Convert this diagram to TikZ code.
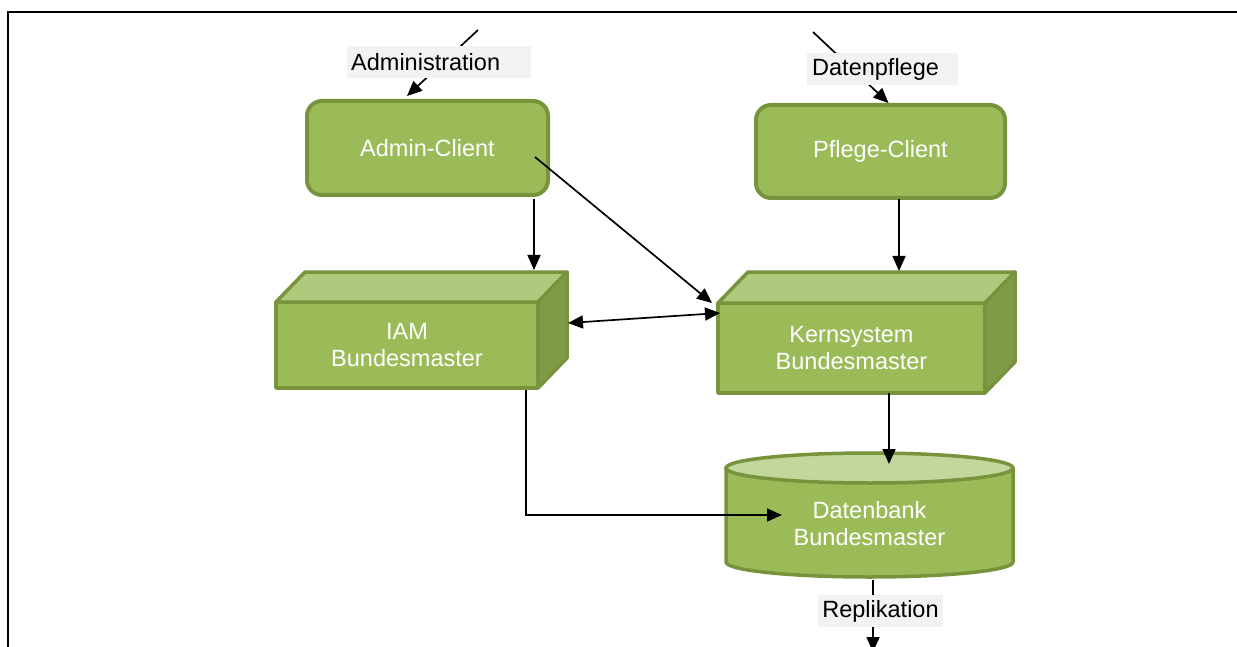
\documentclass[tikz,border=0pt]{standalone}
\usepackage{fontspec}
\setmainfont{Liberation Sans}
\usetikzlibrary{arrows.meta,calc}
\definecolor{gfill}{HTML}{9BBB59}
\definecolor{gline}{HTML}{77933C}
\definecolor{gtop}{HTML}{B0C97C}
\definecolor{gside}{HTML}{7F9B48}
\definecolor{gcyl}{HTML}{C3D69B}
\definecolor{lblbg}{HTML}{F2F2F2}
\begin{document}
\begin{tikzpicture}[x=1pt,y=-1pt,
  font=\fontsize{23.5}{27}\selectfont,
  client/.style={draw=gline, fill=gfill, line width=4pt, rounded corners=15pt, text=white, align=center, inner sep=0pt, outer sep=0pt},
  cubefront/.style={draw=gline, fill=gfill, line width=3.5pt, text=white, align=center, inner sep=0pt, outer sep=0pt, line join=round},
  cubeface/.style={draw=gline, line width=3.5pt, line join=round},
  lbl/.style={fill=lblbg, text=black, inner ysep=0pt, minimum height=32pt},
  arr/.style={-{Triangle[length=15pt,width=13pt]}, line width=1.7pt},
  darr/.style={{Triangle[length=15pt,width=13pt]}-{Triangle[length=15pt,width=13pt]}, line width=1.7pt}]
\useasboundingbox (0,0) rectangle (1237,647);
\begin{scope}
\clip (0,0) rectangle (1237,647);
\fill[white] (0,0) rectangle (1237,647);
% frame
\draw[line width=2pt] (1250,12) -- (8,12) -- (8,660);

% clients
\node[client, minimum width=241pt, minimum height=94pt] (admin) at (427.5,148) {Admin-Client};
\node[client, minimum width=249pt, minimum height=93pt] (pflege) at (880.5,151.5) {Pflege-Client};

% IAM cube
\node[cubefront, minimum width=262pt, minimum height=86pt] (iam) at (407,345) {IAM\\Bundesmaster};
\draw[cubeface, fill=gtop] (iam.north west) -- ++(29,-30) -- ($(iam.north east)+(29,-30)$) -- (iam.north east) -- cycle;
\draw[cubeface, fill=gside] (iam.north east) -- ++(29,-30) -- ($(iam.south east)+(29,-30)$) -- (iam.south east) -- cycle;

% Kernsystem cube
\node[cubefront, minimum width=267pt, minimum height=90pt] (kern) at (851.5,348) {Kernsystem\\Bundesmaster};
\draw[cubeface, fill=gtop] (kern.north west) -- ++(30,-31) -- ($(kern.north east)+(30,-31)$) -- (kern.north east) -- cycle;
\draw[cubeface, fill=gside] (kern.north east) -- ++(30,-31) -- ($(kern.south east)+(30,-31)$) -- (kern.south east) -- cycle;

% database cylinder
\path[fill=gfill, draw=gline, line width=3.5pt, line join=round] (726,468) -- (726,562) arc[start angle=180, end angle=0, x radius=143.5, y radius=15] -- (1013,468) -- cycle;
\draw[fill=gcyl, draw=gline, line width=3.5pt] (869.5,468) ellipse[x radius=143.5, y radius=15];
\node[text=white, align=center, inner sep=0pt, outer sep=0pt, minimum width=287pt, minimum height=124pt] (db) at (869.5,523.5) {Datenbank\\Bundesmaster};

% connectors
\coordinate (adminsrc) at (478,30);
\draw[arr] (adminsrc) -- ($(admin.north)+(-20.5,-5)$);
\node[lbl, anchor=west, inner xsep=4pt, text width=176pt, align=left] (adminlbl) at (347,62) {Administration};

\coordinate (pflegesrc) at (813,32);
\draw[arr] (pflegesrc) -- ($(pflege.north)+(8,-2)$);
\node[lbl, anchor=west, inner xsep=5pt, text width=141pt, align=left] (pflegelbl) at (807,69) {Datenpflege};

\draw[arr] ($(admin.south)+(106.5,4)$) -- ($(iam.north)+(127,-32)$);
\draw[arr] ($(admin.east)+(-13,9)$) -- ($(kern.north west)+(-6,0)$);
\draw[darr] ($(iam.east)+(30,-22)$) -- ($(kern.west)+(2,-35)$);
\draw[arr] ($(pflege.south)+(18.5,1)$) -- ($(kern.north)+(47.5,-32)$);
\draw[arr] ($(kern.south)+(37.5,0)$) -- ($(db.north)+(19.5,2.5)$);
\draw[arr] ($(iam.south)+(119,2)$) |- ($(db.west)+(56,-8.5)$);

\coordinate (replend) at (873,652);
\draw[arr] ($(db.south)+(3.5,-5.5)$) -- (replend);
\node[lbl, inner xsep=4pt] (repllbl) at (880.5,611) {Replikation};
\end{scope}
\end{tikzpicture}
\end{document}
